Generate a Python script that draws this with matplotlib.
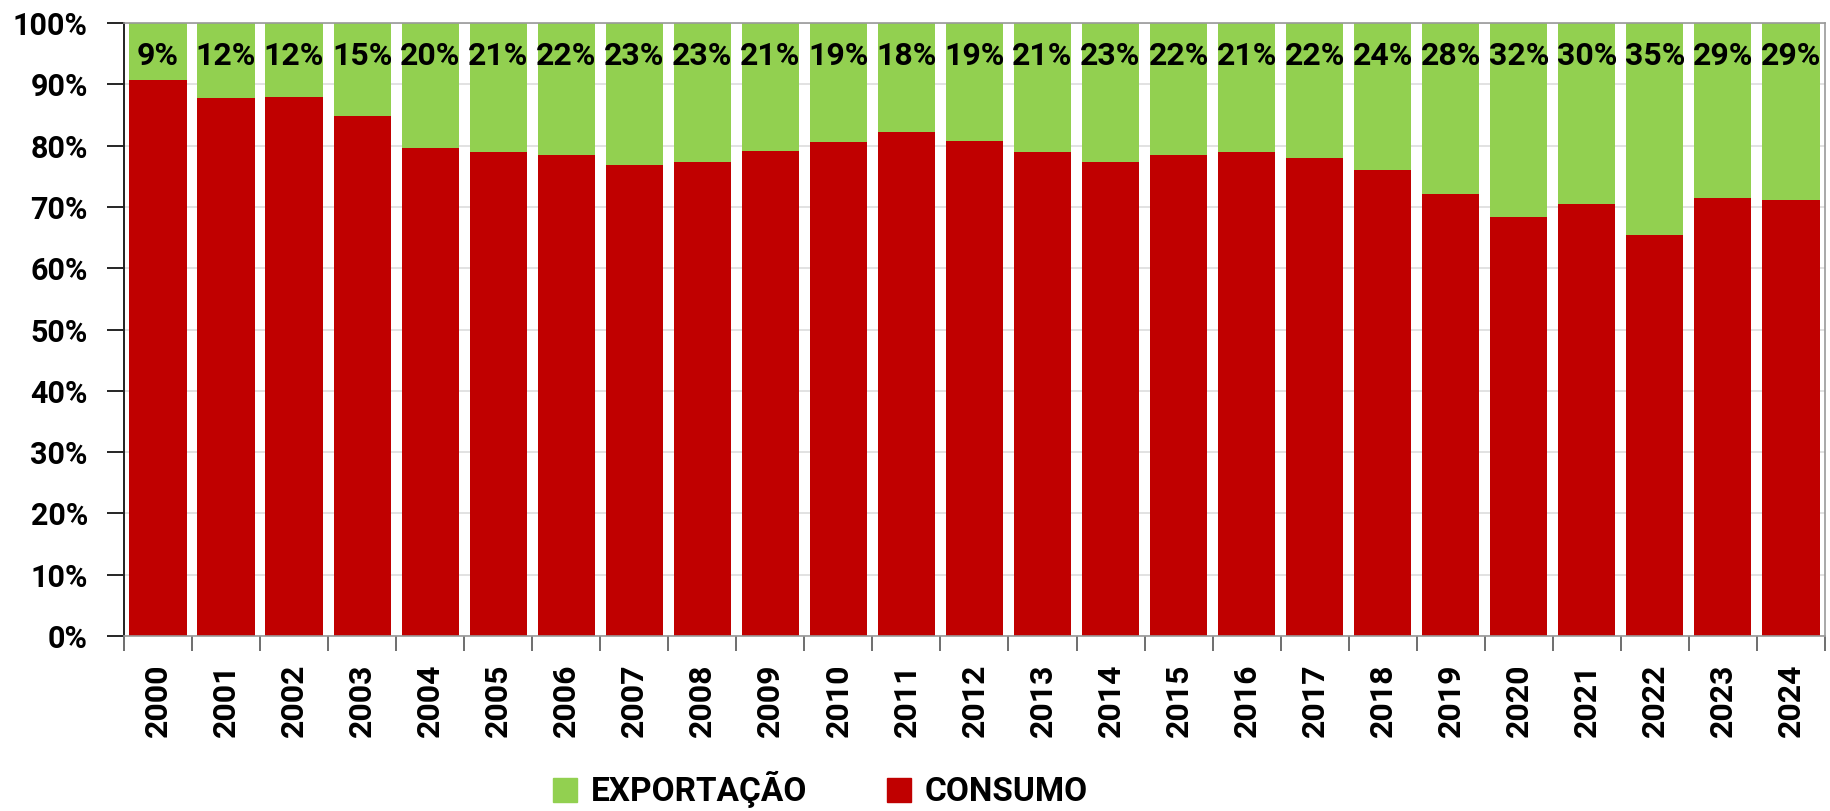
import matplotlib.pyplot as plt
import numpy as np
from matplotlib.patches import Patch
from matplotlib.ticker import MultipleLocator, FixedLocator

plt.rcParams['font.family'] = ['Roboto', 'DejaVu Sans']
plt.rcParams['font.weight'] = 'bold'

anos = [str(a) for a in range(2000, 2025)]
# share of consumption (%), export is the rest
consumo = [90.7, 87.7, 87.9, 84.9, 79.6, 78.9, 78.4, 76.9, 77.4, 79.1,
           80.6, 82.2, 80.7, 79.0, 77.4, 78.4, 79.0, 77.9, 76.1, 72.1,
           68.4, 70.4, 65.4, 71.4, 71.2]
exportacao = [100 - c for c in consumo]

cor_consumo = '#c00000'
cor_export = '#92d050'

fig = plt.figure(figsize=(18.31, 8.11), dpi=100)
ax = fig.add_axes([0.0677, 0.2158, 0.9290, 0.7558])

x = np.arange(len(anos))
ax.bar(x, consumo, width=0.84, color=cor_consumo, zorder=2)
ax.bar(x, exportacao, width=0.84, bottom=consumo, color=cor_export, zorder=2)

for i, v in enumerate(exportacao):
    ax.text(x[i], 94.6, f'{v:.0f}%', ha='center', va='center',
            fontsize=23, fontweight='bold', zorder=3)

ax.set_xlim(-0.5, len(anos) - 0.5)
ax.set_ylim(0, 100)
ax.yaxis.set_major_locator(MultipleLocator(10))
ax.set_yticklabels([f'{int(t)}%' for t in ax.get_yticks()])
ax.set_xticks(x)
ax.set_xticklabels(anos, rotation=90)
ax.xaxis.set_minor_locator(FixedLocator(np.arange(-0.5, len(anos), 1)))
ax.tick_params(axis='x', which='major', length=0, pad=20, labelsize=23)
ax.tick_params(axis='x', which='minor', length=11, width=1.2, color='#555555')
ax.tick_params(axis='y', length=12, width=1.2, pad=14, labelsize=22)
ax.grid(which='major', axis='y', color='#dddddd', linewidth=1.2, zorder=0)

for s in ['top', 'right', 'bottom']:
    ax.spines[s].set_color('#999999')
    ax.spines[s].set_linewidth(1.2)
ax.spines['left'].set_color('#222222')
ax.spines['left'].set_linewidth(1.4)

handles = [Patch(color=cor_export, label='EXPORTAÇÃO'),
           Patch(color=cor_consumo, label='CONSUMO')]
fig.legend(handles=handles, loc='center', bbox_to_anchor=(0.448, 0.026), ncol=2,
           frameon=False, prop={'size': 24, 'weight': 'bold'},
           handlelength=0.72, handleheight=0.72, handletextpad=0.4,
           columnspacing=2.4)

fig.savefig('out.png', dpi=100)
